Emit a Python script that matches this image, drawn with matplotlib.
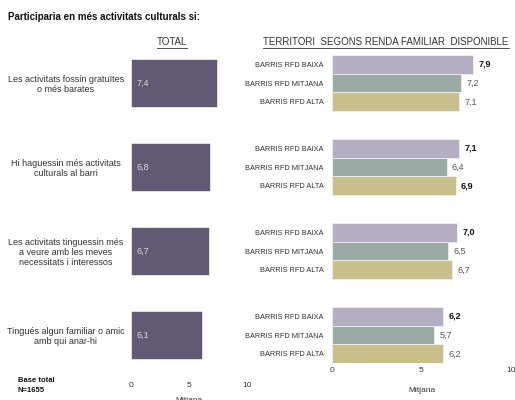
import matplotlib
matplotlib.use('Agg')
import matplotlib.pyplot as plt
import numpy as np

plt.rcParams['font.family'] = ['Liberation Sans', 'DejaVu Sans']

# data
items = ['Les activitats fossin gratuïtes\no més barates',
         'Hi haguessin més activitats\nculturals al barri',
         'Les activitats tinguessin més\na veure amb les meves\nnecessitats i interessos',
         'Tingués algun familiar o amic\namb qui anar-hi']
total = [7.4, 6.8, 6.7, 6.1]
groups = ['BARRIS RFD BAIXA', 'BARRIS RFD MITJANA', 'BARRIS RFD ALTA']
baixa = [7.9, 7.1, 7.0, 6.2]
mitjana = [7.2, 6.4, 6.5, 5.7]
alta = [7.1, 6.9, 6.7, 6.2]
# bold labels (highlighted values)
bold_baixa = [True, True, True, True]
bold_mitjana = [False, False, False, False]
bold_alta = [False, True, False, False]

W, H = 515, 400
fig = plt.figure(figsize=(W / 100, H / 100), dpi=100)

def px_ax(x0, x1, y0, y1):
    return fig.add_axes([x0 / W, 1 - y1 / H, (x1 - x0) / W, (y1 - y0) / H])

# pixel mapping for rows
c0, step = 83, 84
def ylims(top, bottom):
    return ((bottom - c0) / step, (top - c0) / step)

pos = np.arange(len(items))
txtc = '#333333'

# ---------------- left panel: TOTAL
axl = px_ax(131, 247, 45, 378)
axl.barh(pos, total, height=0.57, color='#625a74', edgecolor='#e8e8e8', linewidth=0.6)
axl.set_xlim(0, 10)
axl.set_ylim(*ylims(45, 378))
for i, v in enumerate(total):
    axl.text(0.5, i, f'{v:.1f}'.replace('.', ','), va='center', ha='left',
             fontsize=6.5, color='#d8d8d8')
axl.set_yticks(pos)
axl.set_yticklabels(items, fontsize=6.5, color=txtc, ha='center', linespacing=1.15)
axl.tick_params(axis='y', length=0, pad=47)
axl.set_xticks([0, 5, 10])
axl.tick_params(axis='x', length=0, labelsize=6, labelcolor=txtc, pad=3)
axl.set_xlabel('Mitjana', fontsize=6, color=txtc, labelpad=6)
for s in axl.spines.values():
    s.set_visible(False)

# ---------------- right panel: territori
axr = px_ax(332, 511, 45, 363)
h = 0.226
cols = ['#b5adc2', '#9aaba5', '#c9bf8b']
series = [baixa, mitjana, alta]
bolds = [bold_baixa, bold_mitjana, bold_alta]
offs = [-h, 0, h]
for s_vals, col, off, bl in zip(series, cols, offs, bolds):
    axr.barh(pos + off, s_vals, height=h, color=col, edgecolor='#f0f0f0', linewidth=0.6)
    for i, v in enumerate(s_vals):
        axr.text(v + 0.3, i + off, f'{v:.1f}'.replace('.', ','), va='center', ha='left',
                 fontsize=6.5, color='#111111' if bl[i] else '#555555',
                 fontweight='bold' if bl[i] else 'normal')
axr.set_xlim(0, 10)
axr.set_ylim(*ylims(45, 363))
yt = np.concatenate([pos + o for o in offs])
axr.set_yticks(yt)
axr.set_yticklabels([g for g in groups for _ in pos], fontsize=5.3, color=txtc)
axr.tick_params(axis='y', length=0, pad=6)
axr.set_xticks([0, 5, 10])
axr.tick_params(axis='x', length=0, labelsize=6, labelcolor=txtc, pad=3)
axr.set_xlabel('Mitjana', fontsize=6, color=txtc, labelpad=9)
for s in axr.spines.values():
    s.set_visible(False)

# ---------------- titles
fig.text(8 / W, 1 - 17 / H, 'Participaria en més activitats culturals si:',
         fontsize=7, fontweight='bold', color='#111111', va='center')
t1 = fig.text(172 / W, 1 - 42 / H, 'TOTAL', fontsize=7, color=txtc, ha='center', va='center')
t2 = fig.text(386 / W, 1 - 42 / H, 'TERRITORI  SEGONS RENDA FAMILIAR  DISPONIBLE',
              fontsize=7, color=txtc, ha='center', va='center')
fig.text(18 / W, 1 - 386 / H, 'Base total\nN=1655', fontsize=5.5, fontweight='bold',
         color='#111111', va='center', linespacing=1.6)

# underline the two headers
fig.canvas.draw()
r = fig.canvas.get_renderer()
for t in (t1, t2):
    bb = t.get_window_extent(r)
    fig.add_artist(plt.Line2D([bb.x0 / W, bb.x1 / W], [(bb.y0 - 0.5) / H] * 2,
                              color=txtc, linewidth=0.6))

fig.savefig('out.png', dpi=100, facecolor='white')
